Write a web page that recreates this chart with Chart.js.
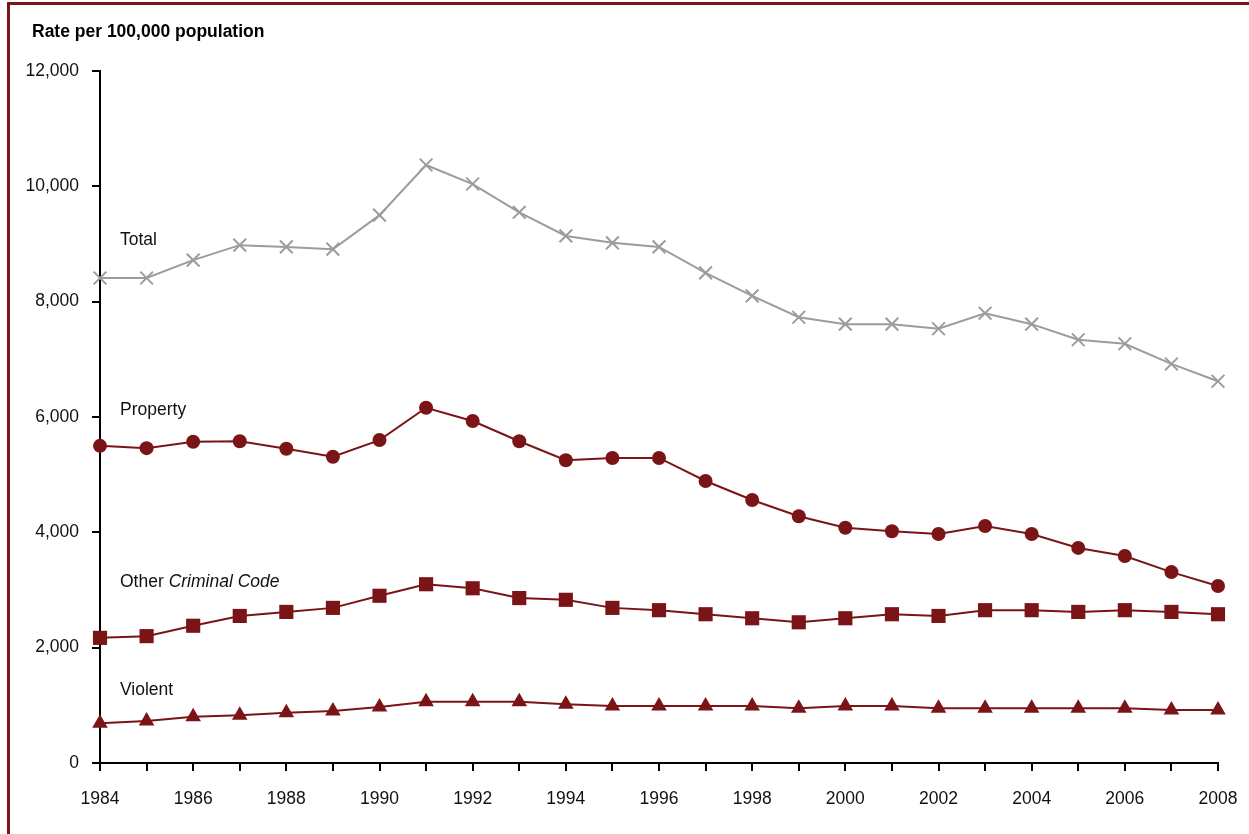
<!DOCTYPE html>
<html>
<head>
<meta charset="utf-8">
<script src="https://cdn.jsdelivr.net/npm/chart.js@4.4.1/dist/chart.umd.min.js"></script>
<style>
  html, body { margin: 0; padding: 0; background: #fff; }
  #wrap { position: relative; width: 1249px; height: 834px; }
  #frame { position: absolute; left: 7px; top: 2px; right: 0; bottom: 0;
           border-top: 3px solid #7d1518; border-left: 3px solid #7d1518; pointer-events: none; }
  canvas { position: absolute; left: 0; top: 0; }
</style>
</head>
<body>
<div id="wrap">
  <canvas id="myChart" width="1249" height="834"></canvas>
  <div id="frame"></div>
</div>
<script>
var years = ['1984','1985','1986','1987','1988','1989','1990','1991','1992','1993','1994','1995','1996',
             '1997','1998','1999','2000','2001','2002','2003','2004','2005','2006','2007','2008'];

var total = [8410, 8410, 8720, 8980, 8950, 8910, 9500, 10370, 10040, 9550, 9140, 9020, 8950,
             8500, 8100, 7730, 7610, 7610, 7530, 7800, 7610, 7340, 7270, 6920, 6620];
var property = [5500, 5460, 5570, 5580, 5450, 5310, 5600, 6160, 5930, 5580, 5250, 5290, 5290,
                4890, 4560, 4280, 4080, 4020, 3970, 4110, 3970, 3730, 3590, 3310, 3070];
var otherCC = [2170, 2200, 2380, 2550, 2620, 2690, 2900, 3100, 3030, 2860, 2830, 2690, 2650,
               2580, 2510, 2440, 2510, 2580, 2550, 2650, 2650, 2620, 2650, 2620, 2580];
var violent = [690, 730, 800, 830, 870, 900, 970, 1060, 1060, 1060, 1020, 990, 990,
               990, 990, 950, 990, 990, 950, 950, 950, 950, 950, 920, 920];

var yTicks = [0, 2000, 4000, 6000, 8000, 10000, 12000];

var RED = '#7b1416';
var GREY = '#9c9c9c';
var FONT = '"Liberation Sans", Arial, sans-serif';

// series names written next to the lines
var seriesText = {
    id: 'seriesText',
    afterDatasetsDraw: function (chart) {
        var c = chart.ctx, x = chart.scales.x, y = chart.scales.y;
        var left = x.getPixelForValue(0) + 20;
        c.save();
        c.fillStyle = '#111';
        c.textBaseline = 'middle';
        c.textAlign = 'left';
        c.font = '17.5px ' + FONT;
        c.fillText('Total', left, y.getPixelForValue(9070));
        c.fillText('Property', left, y.getPixelForValue(6120));
        c.fillText('Violent', left, y.getPixelForValue(1265));
        var yo = y.getPixelForValue(3140);
        c.fillText('Other ', left, yo);
        var w = c.measureText('Other ').width;
        c.font = 'italic 17.5px ' + FONT;
        c.fillText('Criminal Code', left + w, yo);
        // axis title
        c.font = 'bold 17.5px ' + FONT;
        c.fillStyle = '#000';
        c.fillText('Rate per 100,000 population', 32, 32);
        c.restore();
    }
};

var ctx = document.getElementById('myChart');
var myChart = new Chart(ctx, {
    type: 'line',
    data: {
        labels: years,
        datasets: [
            { label: 'Total', data: total, borderColor: GREY, backgroundColor: GREY, borderWidth: 2,
              pointStyle: 'crossRot', pointRadius: 9, pointBorderWidth: 2 },
            { label: 'Property', data: property, borderColor: RED, backgroundColor: RED, borderWidth: 2,
              pointStyle: 'circle', pointRadius: 7, pointBorderWidth: 0 },
            { label: 'Other Criminal Code', data: otherCC, borderColor: RED, backgroundColor: RED, borderWidth: 2,
              pointStyle: 'rect', pointRadius: 10, pointBorderWidth: 0 },
            { label: 'Violent', data: violent, borderColor: RED, backgroundColor: RED, borderWidth: 2,
              pointStyle: 'triangle', pointRadius: 9, pointBorderWidth: 0 }
        ]
    },
    options: {
        responsive: false,
        animation: false,
        layout: { padding: { top: 71, right: 31, left: 0, bottom: 0 } },
        plugins: { legend: { display: false }, tooltip: { enabled: false } },
        scales: {
            x: {
                type: 'category',
                offset: false,
                border: { display: true, color: '#000', width: 2 },
                grid: { drawOnChartArea: false, drawTicks: true, tickLength: 8, color: '#000', lineWidth: 2 },
                ticks: {
                    autoSkip: false, maxRotation: 0, padding: 18, color: '#111',
                    font: { family: FONT, size: 17.5 },
                    callback: function (v, i) { return i % 2 === 0 ? years[i] : ''; }
                },
                afterFit: function (s) { s.height = 71; s.paddingRight = 0; s.paddingLeft = 0; }
            },
            y: {
                min: 0, max: 12000,
                afterBuildTicks: function (s) { s.ticks = yTicks.map(function (v) { return { value: v }; }); },
                border: { display: true, color: '#000', width: 2 },
                grid: { drawOnChartArea: false, drawTicks: true, tickLength: 8, color: '#000', lineWidth: 2 },
                ticks: {
                    padding: 13, color: '#111',
                    font: { family: FONT, size: 17.5 },
                    callback: function (v) { return v.toLocaleString('en-US'); }
                },
                afterFit: function (s) { s.width = 100; s.paddingTop = 0; s.paddingBottom = 0; }
            }
        }
    },
    plugins: [seriesText]
});
</script>
</body>
</html>
